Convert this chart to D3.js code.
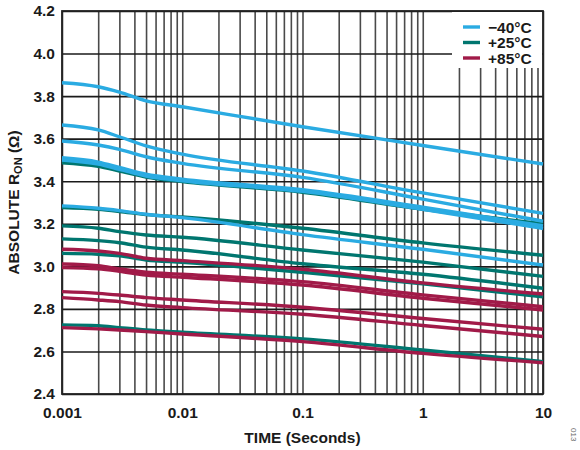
<!DOCTYPE html>
<html>
<head>
<meta charset="utf-8">
<script src="https://cdn.jsdelivr.net/npm/d3@7"></script>
<style>
  body { margin: 0; background: #fff; }
  svg text { font-family: "Liberation Sans", Arial, sans-serif; font-weight: bold; }
</style>
</head>
<body>
<div id="chart"></div>
<script>
// time points (seconds)
var times = [0.001, 0.002, 0.003, 0.005, 0.01, 0.1, 1, 10];

// -40°C
var cold = [
  [3.863, 3.844, 3.819, 3.778, 3.750, 3.656, 3.568, 3.481],
  [3.664, 3.641, 3.609, 3.566, 3.527, 3.448, 3.345, 3.249],
  [3.589, 3.570, 3.550, 3.515, 3.484, 3.418, 3.316, 3.212],
  [3.510, 3.490, 3.465, 3.433, 3.410, 3.360, 3.278, 3.190],
  [3.500, 3.480, 3.456, 3.424, 3.402, 3.352, 3.268, 3.178],
  [3.284, 3.273, 3.262, 3.245, 3.229, 3.149, 3.080, 3.006]
];
// +25°C
var room = [
  [3.487, 3.470, 3.448, 3.420, 3.398, 3.348, 3.268, 3.200],
  [3.276, 3.268, 3.258, 3.243, 3.232, 3.179, 3.110, 3.052],
  [3.190, 3.179, 3.163, 3.147, 3.137, 3.077, 3.020, 2.953],
  [3.129, 3.121, 3.111, 3.090, 3.077, 3.012, 2.963, 2.897],
  [3.061, 3.057, 3.049, 3.030, 3.019, 2.972, 2.918, 2.857],
  [2.725, 2.721, 2.712, 2.701, 2.690, 2.659, 2.607, 2.552]
];
// +85°C
var hot = [
  [3.080, 3.072, 3.061, 3.038, 3.027, 2.986, 2.922, 2.870],
  [3.011, 3.003, 2.988, 2.972, 2.963, 2.928, 2.866, 2.810],
  [2.994, 2.988, 2.977, 2.959, 2.949, 2.912, 2.850, 2.795],
  [2.881, 2.873, 2.865, 2.853, 2.842, 2.808, 2.755, 2.704],
  [2.853, 2.842, 2.834, 2.818, 2.806, 2.775, 2.722, 2.670],
  [2.712, 2.706, 2.701, 2.693, 2.682, 2.646, 2.591, 2.547]
];

var legendLabels = ["\u221240\u00B0C", "+25\u00B0C", "+85\u00B0C"];
var colors = ["#2AABE2", "#00766F", "#A11A48"];
var xTicks = [0.001, 0.01, 0.1, 1, 10];
var yTicks = [2.4, 2.6, 2.8, 3.0, 3.2, 3.4, 3.6, 3.8, 4.0, 4.2];

var W = 580, H = 450;
var plotL = 62, plotR = 543, plotT = 11, plotB = 394;

var svg = d3.select("#chart").append("svg")
  .attr("width", W)
  .attr("height", H);

var x = d3.scaleLog().domain([0.001, 10]).range([plotL, plotR]);
var y = d3.scaleLinear().domain([2.4, 4.2]).range([plotB, plotT]);

// minor ticks for the vertical grid
var minor = [];
[0.001, 0.01, 0.1, 1].forEach(function (d) {
  for (var k = 1; k <= 9; k++) minor.push(d * k);
});
minor.push(10);

// vertical grid
svg.append("g")
  .attr("class", "vgrid")
  .attr("transform", "translate(0," + plotB + ")")
  .call(d3.axisBottom(x).tickValues(minor).tickFormat("").tickSize(-(plotB - plotT)).tickSizeOuter(0))
  .call(function (g) {
    g.select(".domain").remove();
    g.selectAll("line").attr("stroke", "#4a4a4a").attr("stroke-width", 1.6);
  });

// horizontal grid
svg.append("g")
  .attr("class", "hgrid")
  .attr("transform", "translate(" + plotL + ",0)")
  .call(d3.axisLeft(y).tickValues(yTicks).tickFormat("").tickSize(-(plotR - plotL)).tickSizeOuter(0))
  .call(function (g) {
    g.select(".domain").remove();
    g.selectAll("line").attr("stroke", "#1a1a1a").attr("stroke-width", 1.6);
  });

// legend box covers the grid
svg.append("rect")
  .attr("x", 452).attr("y", plotT + 1)
  .attr("width", plotR - 452 - 1).attr("height", 56)
  .attr("fill", "#fff");

// frame
svg.append("rect")
  .attr("x", plotL).attr("y", plotT)
  .attr("width", plotR - plotL).attr("height", plotB - plotT)
  .attr("fill", "none")
  .attr("stroke", "#222")
  .attr("stroke-width", 1.8);

// curves
var line = d3.line()
  .x(function (d, i) { return x(times[i]); })
  .y(function (d) { return y(d); })
  .curve(d3.curveMonotoneX);

var groups = [room, hot, cold];
var groupColors = [colors[1], colors[2], colors[0]];
groups.forEach(function (set, gi) {
  svg.append("g").selectAll("path")
    .data(set)
    .enter().append("path")
    .attr("d", line)
    .attr("fill", "none")
    .attr("stroke", groupColors[gi])
    .attr("stroke-width", 3.4)
    .attr("stroke-linejoin", "round");
});

// tick labels
svg.append("g")
  .attr("transform", "translate(0," + plotB + ")")
  .call(d3.axisBottom(x).tickValues(xTicks).tickFormat(function (d) { return String(d); }).tickSize(0).tickPadding(13))
  .call(function (g) {
    g.select(".domain").remove();
    g.selectAll("text").attr("font-size", "15.5px").attr("fill", "#1a1a1a")
      .style("font-family", "'Liberation Sans', Arial, sans-serif").style("font-weight", "bold");
  });

svg.append("g")
  .attr("transform", "translate(" + plotL + ",0)")
  .call(d3.axisLeft(y).tickValues(yTicks).tickFormat(d3.format(".1f")).tickSize(0).tickPadding(7))
  .call(function (g) {
    g.select(".domain").remove();
    g.selectAll("text").attr("font-size", "15.5px").attr("fill", "#1a1a1a")
      .style("font-family", "'Liberation Sans', Arial, sans-serif").style("font-weight", "bold");
  });

// axis titles
svg.append("text")
  .attr("x", (plotL + plotR) / 2)
  .attr("y", 443)
  .attr("text-anchor", "middle")
  .attr("font-size", "15.5px")
  .attr("fill", "#1a1a1a")
  .text("TIME (Seconds)");

var yt = svg.append("text")
  .attr("transform", "translate(19," + ((plotT + plotB) / 2) + ") rotate(-90)")
  .attr("text-anchor", "middle")
  .attr("font-size", "15.5px")
  .attr("fill", "#1a1a1a");
yt.append("tspan").text("ABSOLUTE R");
yt.append("tspan").attr("font-size", "11px").attr("dy", 3).text("ON");
yt.append("tspan").attr("dy", -3).text(" (\u03A9)");

// legend
var legend = svg.append("g").selectAll("g")
  .data(legendLabels)
  .enter().append("g")
  .attr("transform", function (d, i) { return "translate(463," + (27 + i * 15.5) + ")"; });
legend.append("line")
  .attr("x1", 0).attr("x2", 17)
  .attr("stroke", function (d, i) { return colors[i]; })
  .attr("stroke-width", 3.4);
legend.append("text")
  .attr("x", 25).attr("y", 5.5)
  .attr("font-size", "15.5px")
  .attr("fill", "#1a1a1a")
  .text(function (d) { return d; });

// figure number
svg.append("text")
  .attr("transform", "translate(571,428) rotate(90)")
  .attr("font-size", "8px")
  .style("font-weight", "normal")
  .attr("fill", "#666")
  .text("013");
</script>
</body>
</html>
